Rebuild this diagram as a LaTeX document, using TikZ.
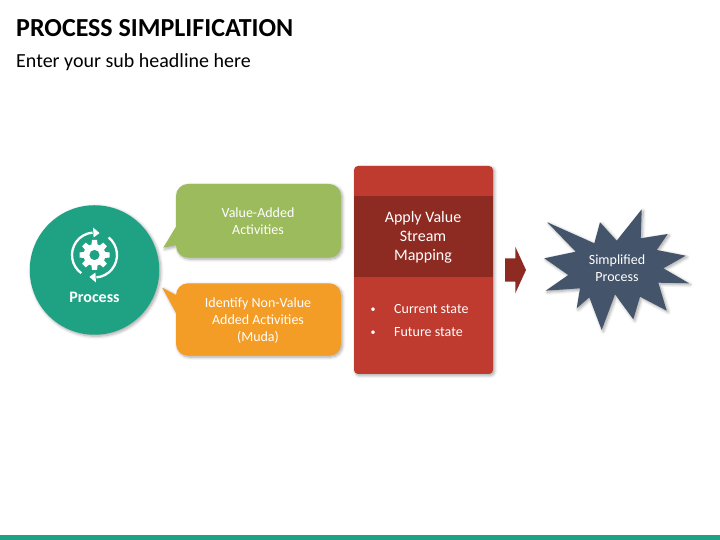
\documentclass[tikz,border=0pt]{standalone}
\usepackage{fontspec}
\setmainfont{Carlito}
\usetikzlibrary{shadows.blur}
\definecolor{tealfill}{HTML}{1FA283}
\definecolor{greenfill}{HTML}{9BBB5C}
\definecolor{orangefill}{HTML}{F39C26}
\definecolor{redfill}{HTML}{BF3A2F}
\definecolor{darkred}{HTML}{8D2A21}
\definecolor{navyfill}{HTML}{44546A}
\begin{document}
\begin{tikzpicture}
    [x=1pt,y=1pt,
     txt/.style={text=white,align=center,font=\fontsize{14}{17}\selectfont},
     shade/.style={blur shadow={shadow xshift=1.5pt,shadow yshift=-1.5pt,shadow blur steps=6,shadow opacity=35,shadow blur radius=3pt}}]
  \useasboundingbox (0,0) rectangle (720,540);
  \fill [tealfill] (0,0) rectangle (720,5);
  \node [anchor=base west,inner sep=0pt,font=\fontsize{26}{26}\selectfont\bfseries] (title) at (16,503.5) {PROCESS SIMPLIFICATION};
  \node [anchor=base west,inner sep=0pt,font=\fontsize{20}{20}\selectfont] (subtitle) at (16,472.5) {Enter your sub headline here};
  % process circle
  \node [shape=circle,fill=tealfill,minimum size=129.5pt,inner sep=0pt,shade] (proc) at (94.5,270) {};
  \node [txt,font=\fontsize{16}{16}\selectfont\bfseries] (proclabel) at (94.5,242.5) {Process};
  % gear icon
  \foreach \a in {0,45,...,315}
    \fill [white,shift={(94.5,285)},rotate=\a] (-3.2,9) -- (-2.5,15) -- (2.5,15) -- (3.2,9) -- cycle;
  \fill [white,even odd rule] (94.5,285) circle (11) (94.5,285) circle (5.2);
  \draw [white,line width=2.3pt,shift={(94.5,285)}] (234:22.5) arc (234:95:22.5);
  \draw [white,line width=2.3pt,shift={(94.5,285)}] (51:22.5) arc (51:-85:22.5);
  \fill [white,shift={(94.5,285)}] (93:17.5) -- (93:27.5) -- (77:22.5) -- cycle;
  \fill [white,shift={(94.5,285)}] (-87:17.5) -- (-87:27.5) -- (-103:22.5) -- cycle;
  % callouts
  \path [fill=greenfill,shade,rounded corners=12pt]
    (176,356) -- (341,356) -- (341,282.3) -- (176,282.3) [sharp corners] -- (176,295) -- (163.3,292.3) -- (176,313.3) [rounded corners=12pt] -- cycle;
  \node [txt] (valuelabel) at (258,318.5) {Value-Added\\Activities};
  \path [fill=orangefill,shade,rounded corners=12pt]
    (176,256.7) -- (341,256.7) -- (341,184.3) -- (176,184.3) [sharp corners] -- (176,227) -- (162.3,252.3) -- (176,245) [rounded corners=12pt] -- cycle;
  \node [txt] (mudalabel) at (258,219.5) {Identify Non-Value\\Added Activities\\(Muda)};
  % mapping panel
  \path [fill=redfill,shade,rounded corners=4pt] (354,166) rectangle (493,374);
  \fill [darkred] (354,263.3) rectangle (493,344);
  \node [txt,font=\fontsize{16}{19}\selectfont] (maplabel) at (423,303) {Apply Value\\Stream\\Mapping};
  \node [txt,anchor=base,font=\fontsize{10}{10}\selectfont] (bulleta) at (373,227) {•};
  \node [txt,anchor=base,font=\fontsize{10}{10}\selectfont] (bulletb) at (373,204) {•};
  \node [txt,anchor=base west,inner sep=0pt] (curlabel) at (394,226.5) {Current state};
  \node [txt,anchor=base west,inner sep=0pt] (futlabel) at (394,203.5) {Future state};
  % arrow
  \fill [darkred] (505,281.7) -- (515.3,281.7) -- (515.3,293.3) -- (526,270) -- (515.3,246.7) -- (515.3,258.3) -- (505,258.3) -- cycle;
  % star
  \fill [navyfill,shade] (547.3,317.7) -- (594.3,296.7) -- (600,317.7) -- (616.7,299.3) -- (641.7,330.7) -- (640.7,301.7)
    -- (667.7,306) -- (656.7,290) -- (685.7,284.3) -- (663.3,271.7) -- (689,256.7) -- (658.3,257.3)
    -- (666.7,229.3) -- (640,243.3) -- (633.3,220.7) -- (615,245.7) -- (601.7,210) -- (589.3,242.7)
    -- (576.7,231.7) -- (580,251.7) -- (545.7,249.3) -- (568.3,265) -- (544.3,281.7) -- (575.7,288.3) -- cycle;
  \node [txt] (starlabel) at (617,271.5) {Simplified\\Process};
\end{tikzpicture}
\end{document}
